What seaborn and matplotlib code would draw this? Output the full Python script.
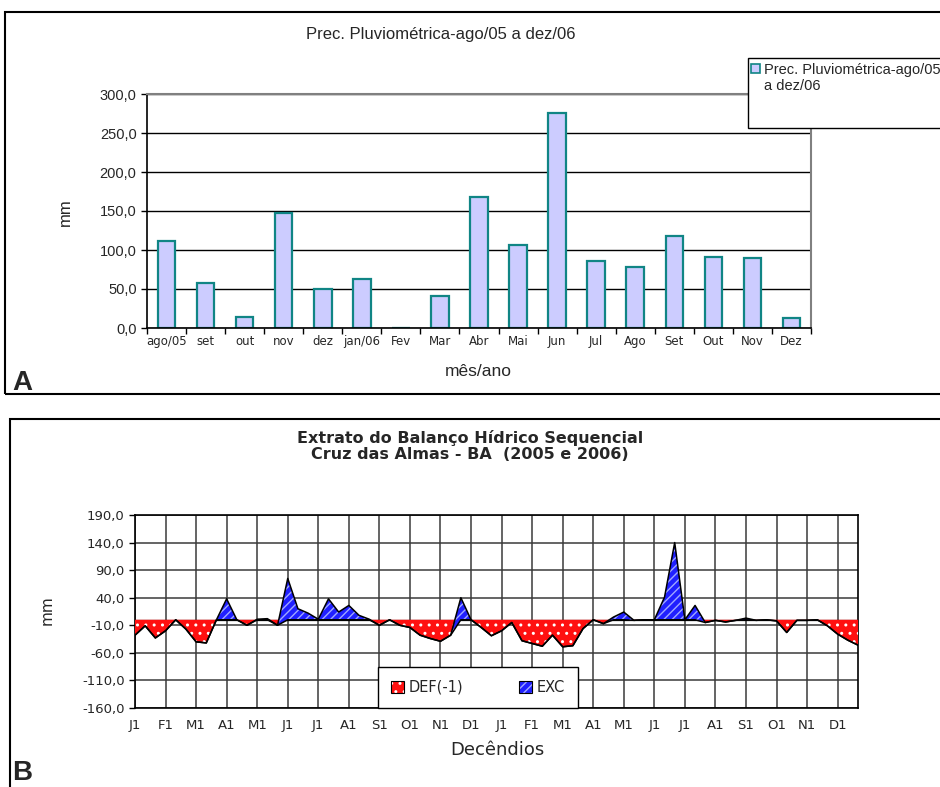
import matplotlib
matplotlib.use("Agg")
import matplotlib.pyplot as plt
from matplotlib.patches import Rectangle, Patch
import seaborn as sns
import pandas as pd
import numpy as np

# ---------------- data ----------------
months = ['ago/05', 'set', 'out', 'nov', 'dez', 'jan/06', 'Fev', 'Mar', 'Abr',
          'Mai', 'Jun', 'Jul', 'Ago', 'Set', 'Out', 'Nov', 'Dez']
prec = [112.0, 57.6, 14.6, 147.2, 50.4, 63.2, 0.0, 40.5, 167.7,
        106.3, 276.0, 85.4, 78.5, 117.4, 90.9, 89.2, 12.4]

dec_labels = ['J1', 'F1', 'M1', 'A1', 'M1', 'J1', 'J1', 'A1', 'S1', 'O1', 'N1', 'D1',
              'J1', 'F1', 'M1', 'A1', 'M1', 'J1', 'J1', 'A1', 'S1', 'O1', 'N1', 'D1']

# deficit (-1) per decendio, Jan/2005 .. Dec/2006
deficit = [-28, -11, -33, -20, 0, -17, -40, -42, 0, 0, 0, -10,
           0, 0, -10, 0, 0, 0, 0, 0, 0, 0, 0, 0,
           -10, 0, -10, -14, -28, -34, -39, -28, 0, 0, -14, -29,
           -20, -5, -38, -43, -48, -28, -49, -47, -16, 0, -7, 0,
           0, -1, 0, 0, 0, 0, 0, 0, -5, -1, -4, -1,
           0, -1, 0, -2, -23, -1, -1, 0, -11, -26, -37, -46]
# excess per decendio
excess = [0, 0, 0, 0, 0, 0, 0, 0, 0, 38, 0, 0,
          1, 2, 0, 75, 20, 12, 1, 38, 14, 26, 8, 1,
          0, 0, 0, 0, 0, 0, 0, 0, 40, 0, 0, 0,
          0, 0, 0, 0, 0, 0, 0, 0, 0, 0, 0, 5,
          14, 0, 0, 0, 41, 140, 0, 26, 0, 0, 0, 0,
          3, 0, 0, 0, 0, 0, 0, 0, 0, 0, 0, 0]

# ---------------- style ----------------
sns.set_style("white")
plt.rcParams['font.family'] = ['Liberation Sans', 'DejaVu Sans']
WIDE = ['DejaVu Sans']

W, H = 940, 787
fig = plt.figure(figsize=(W / 100, H / 100), dpi=100)


def fx(x):
    return x / W


def fy(y):
    return 1 - y / H


def fmt(v):
    return f"{v:.1f}".replace('.', ',')


# panel borders
fig.patches.append(Rectangle((fx(5), fy(394)), 1.2, (394 - 12) / H, transform=fig.transFigure,
                             fill=False, lw=1.5, ec='black'))
fig.patches.append(Rectangle((fx(10), fy(800)), 1.2, (800 - 419) / H, transform=fig.transFigure,
                             fill=False, lw=1.5, ec='black'))

# ---------------- panel A ----------------
axA = fig.add_axes([fx(147), fy(328), (811 - 147) / W, (328 - 94) / H])
dfA = pd.DataFrame({'mes': months, 'prec': prec})
sns.barplot(data=dfA, x='mes', y='prec', ax=axA, color='#CCCCFF', width=0.45,
            edgecolor='#108585', linewidth=1.6, saturation=1)
if axA.get_legend() is not None:
    axA.get_legend().remove()
axA.set_ylim(0, 300)
axA.set_xlim(-0.5, len(months) - 0.5)
yt = np.arange(0, 301, 50)
axA.set_yticks(yt)
axA.set_yticklabels([fmt(v) for v in yt], fontsize=10.5)
axA.yaxis.grid(True, color='black', lw=1)
axA.set_axisbelow(True)
axA.set_xticks(range(len(months)))
axA.set_xticklabels(months, fontsize=8.5, family=WIDE)
axA.tick_params(axis='x', length=0, pad=5)
axA.tick_params(axis='y', length=4, width=1, direction='out', color='black', left=True)
axA.set_xticks(np.arange(-0.5, len(months), 1), minor=True)
axA.tick_params(axis='x', which='minor', length=4, width=1, direction='out', bottom=True, color='black')
for s in ['left', 'bottom']:
    axA.spines[s].set_color('black')
    axA.spines[s].set_linewidth(1.2)
for s in ['top', 'right']:
    axA.spines[s].set_visible(True)
    axA.spines[s].set_color('#808080')
    axA.spines[s].set_linewidth(1.5)
axA.set_xlabel('')
axA.set_ylabel('')
fig.text(fx(65), fy(212), 'mm', rotation=90, fontsize=12, ha='center', va='center')
fig.text(fx(478), fy(372), 'mês/ano', fontsize=12.5, ha='center', va='center')
fig.text(fx(441), fy(35), 'Prec. Pluviométrica-ago/05 a dez/06', fontsize=12, ha='center', va='center')
fig.text(fx(12), fy(390), 'A', fontsize=20, fontweight='bold', ha='left', va='baseline')
fig.patches.append(Rectangle((fx(748), fy(128)), 0.3, (128 - 58) / H, transform=fig.transFigure,
                             fill=True, fc='white', lw=1.0, ec='black', zorder=5))
hA = [Patch(facecolor='#CCCCFF', edgecolor='#108585', lw=1.2)]
legA = fig.legend(hA, ['Prec. Pluviométrica-ago/05'], loc='upper left',
                  bbox_to_anchor=(fx(751), fy(63)), fontsize=10.5,
                  frameon=False, handlelength=0.6, handleheight=0.6, handletextpad=0.3,
                  borderpad=0, borderaxespad=0)
legA.set_zorder(6)
fig.text(fx(764), fy(86), 'a dez/06', fontsize=10.5, ha='left', va='center', zorder=7)

# ---------------- panel B ----------------
axB = fig.add_axes([fx(135), fy(708), (858 - 135) / W, (708 - 515) / H])
n = len(deficit)
x = np.arange(n)
top_line = [d + e for d, e in zip(deficit, excess)]
axB.fill_between(x, 0, deficit, facecolor='#FF1010', edgecolor='white', hatch='..',
                 linewidth=0, zorder=3)
axB.fill_between(x, deficit, top_line, facecolor='#2020FF', edgecolor='#A0A8FF',
                 hatch='////', linewidth=0, zorder=4)
dfB = pd.DataFrame({'x': x, 'def': deficit, 'top': top_line})
sns.lineplot(data=dfB, x='x', y='def', ax=axB, color='black', lw=1.1, zorder=5)
sns.lineplot(data=dfB, x='x', y='top', ax=axB, color='black', lw=1.1, zorder=5)
axB.axhline(0, color='black', lw=0.9, zorder=2.5)
axB.set_xlim(0, n - 1)
axB.set_ylim(-160, 190)
ytB = np.arange(-160, 191, 50)
axB.set_yticks(ytB)
axB.set_yticklabels([fmt(v) for v in ytB], fontsize=9.5, family=WIDE)
xtB = np.arange(0, n, 3)
axB.set_xticks(xtB)
axB.set_xticklabels(dec_labels, fontsize=9.5, family=WIDE)
axB.grid(True, color='#3a3a3a', lw=1.1)
axB.set_axisbelow(True)
axB.tick_params(axis='x', length=0, pad=8)
axB.tick_params(axis='y', length=4, width=1, direction='out', left=True, color='black')
for s in ['left', 'bottom', 'right', 'top']:
    axB.spines[s].set_visible(True)
    axB.spines[s].set_color('black')
    axB.spines[s].set_linewidth(1.2)
axB.set_xlabel('')
axB.set_ylabel('')
fig.text(fx(47), fy(610), 'mm', rotation=90, fontsize=11, ha='center', va='center', family=WIDE)
fig.text(fx(497), fy(750), 'Decêndios', fontsize=13, ha='center', va='center', family=WIDE)
fig.text(fx(470), fy(446), 'Extrato do Balanço Hídrico Sequencial\nCruz das Almas - BA  (2005 e 2006)',
         fontsize=11.5, fontweight='bold', ha='center', va='center', linespacing=1.05, family=WIDE)
fig.text(fx(12), fy(780), 'B', fontsize=20, fontweight='bold', ha='left', va='baseline')

h_def = (Patch(facecolor='#FF1010', edgecolor='white', hatch='..', lw=0),
         Patch(facecolor='none', edgecolor='black', lw=0.8))
h_exc = (Patch(facecolor='#2020FF', edgecolor='#A0A8FF', hatch='////', lw=0),
         Patch(facecolor='none', edgecolor='black', lw=0.8))
legB = axB.legend([h_def, h_exc], ['DEF(-1)', 'EXC'], ncol=2, loc='lower left',
                  bbox_to_anchor=((378 - 135) / 723, 0, (578 - 378) / 723, (708 - 666) / 193),
                  mode='expand', prop={'family': WIDE, 'size': 10.5}, frameon=True, fancybox=False,
                  edgecolor='black', framealpha=1, handlelength=0.9, handleheight=0.9,
                  handletextpad=0.3, borderaxespad=0, borderpad=0.9, columnspacing=2.5)
legB.get_frame().set_linewidth(1.0)
legB.set_zorder(10)

fig.savefig('out.png', dpi=100)
